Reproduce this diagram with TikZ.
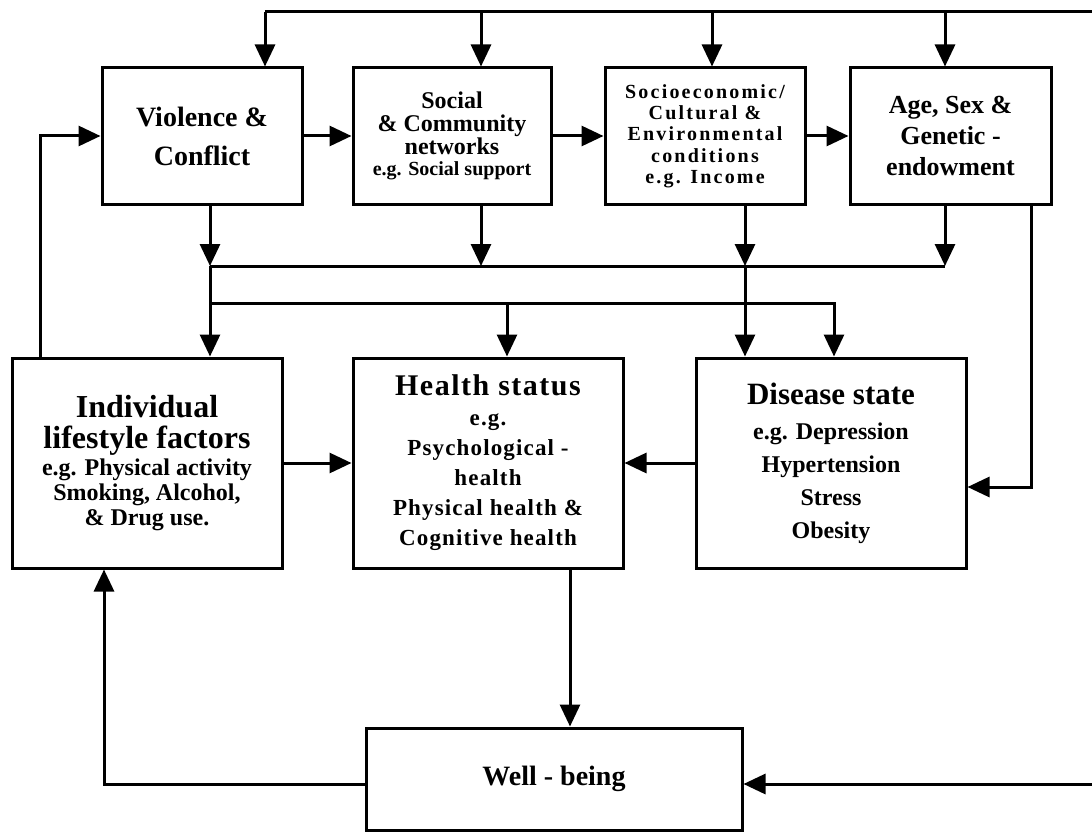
\documentclass[tikz,border=0pt]{standalone}
\usepackage{fontspec}
\setmainfont{Liberation Serif}
\usetikzlibrary{arrows.meta,calc}

\begin{document}
\begin{tikzpicture}[x=1pt,y=-1pt,
  block/.style={draw, line width=3pt, align=center, inner sep=0pt},
  flow/.style={line width=3pt, -{Triangle[length=22pt,width=20pt]}},
  wire/.style={line width=3pt}]
\useasboundingbox (0,0) rectangle (1092,832);

\node[block, minimum width=200pt, minimum height=136pt,
  font=\bfseries\fontsize{28}{39}\selectfont] (viol) at (202,136) {Violence \&\\Conflict};
\node[block, minimum width=198pt, minimum height=136pt,
  font=\bfseries\fontsize{24}{23}\selectfont] (social) at (452,136)
  {Social\\\& Community\\networks\\[-2pt]{\fontsize{20}{23}\selectfont e.g. Social support}};
\node[block, minimum width=200pt, minimum height=136pt,
  font=\bfseries\fontsize{20}{21.3}\selectfont\addfontfeature{LetterSpace=11}] (socio) at (705,136)
  {Socioeconomic/\\Cultural \&\\Environmental\\conditions\\e.g. Income};
\node[block, minimum width=201pt, minimum height=136pt,
  font=\bfseries\fontsize{26}{31}\selectfont] (age) at (950.5,136) {Age, Sex \&\\Genetic -\\endowment};

\node[block, minimum width=270pt, minimum height=210pt,
  font=\bfseries\fontsize{24}{25}\selectfont] (indiv) at (147,463)
  {{\fontsize{32}{25}\selectfont Individual}\\[6pt]{\fontsize{32}{25}\selectfont lifestyle factors}\\[2pt]e.g. Physical activity\\Smoking, Alcohol,\\\& Drug use.};
\node[block, minimum width=270pt, minimum height=210pt,
  font=\bfseries\fontsize{23}{30}\selectfont\addfontfeature{LetterSpace=5}] (health) at (488,463)
  {{\fontsize{30}{30}\selectfont Health status}\\e.g.\\Psychological -\\health\\Physical health \&\\Cognitive health};
\node[block, minimum width=270pt, minimum height=210pt,
  font=\bfseries\fontsize{24}{33}\selectfont] (disease) at (831,463)
  {{\fontsize{31}{33}\selectfont Disease state}\\[2pt]e.g. Depression\\Hypertension\\Stress\\Obesity};

\node[block, minimum width=376pt, minimum height=102pt,
  font=\bfseries\fontsize{28}{30}\selectfont] (well) at (554,779) {Well - being};

\coordinate (tl) at (265,12);
\coordinate (tr) at (1092,12);
\draw[wire] (tr) -- (tl);
\draw[flow] (tl) -- (tl |- viol.north);
\foreach \n/\x in {social/481, socio/712, age/945}{
  \coordinate (t\n) at (\x,12);
  \draw[flow] (t\n) -- (t\n |- \n.north);
}

\draw[flow] (viol) -- (social);
\draw[flow] (social) -- (socio);
\draw[flow] (socio) -- (age);
\draw[flow] ($(indiv.north west)+(30,0)$) |- (viol.west);

\coordinate (b1) at (210,266);
\coordinate (b2) at (945,266);
\draw[wire] (b1) -- (b2);
\draw[flow] (b1 |- viol.south) -- (b1);
\foreach \n/\x in {social/481, socio/745, age/945}{
  \coordinate (d\n) at (\x,266);
  \draw[flow] (d\n |- \n.south) -- (d\n);
}
\draw[flow] (b1) -- (b1 |- indiv.north);
\draw[flow] (dsocio) -- (dsocio |- disease.north);

\coordinate (c1) at (210,303);
\coordinate (c2) at (507,303);
\coordinate (c3) at (834,303);
\draw[flow] (c1) -- (c3) -- (c3 |- disease.north);
\draw[flow] (c2) -- (c2 |- health.north);

\coordinate (ar) at (1031,487);
\draw[flow] (ar |- age.south) -- (ar) -- (ar -| disease.east);

\draw[flow] (indiv) -- (health);
\draw[flow] (disease) -- (health);

\coordinate (hw) at (570,650);
\draw[flow] (hw |- health.south) -- (hw |- well.north);

\coordinate (wl) at (104,784);
\coordinate (wr) at (1092,784);
\draw[flow] (wl -| well.west) -- (wl) -- (wl |- indiv.south);
\draw[flow] (wr) -- (wr -| well.east);
\end{tikzpicture}
\end{document}
